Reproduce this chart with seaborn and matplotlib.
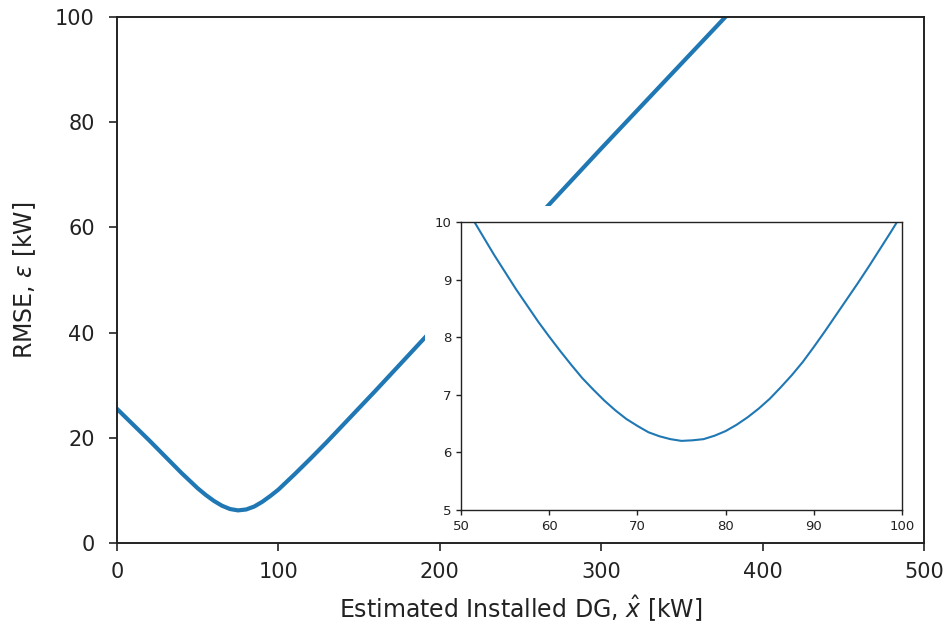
import matplotlib
matplotlib.use("Agg")
import matplotlib.pyplot as plt
from matplotlib.patches import Rectangle
import seaborn as sns
import pandas as pd

# Main curve
x_main = [0, 20, 40, 50, 55, 60, 65, 70, 75, 80, 85, 90, 95, 100, 110, 120, 130, 160, 190, 220, 260, 300, 340, 380]
y_main = [25.5, 19.5, 13.3, 10.4, 9.13, 8.01, 7.09, 6.46, 6.2, 6.37, 6.93, 7.83, 8.94, 10.15, 13.06, 16.08, 19.2, 28.9, 38.8, 48.6, 61.8, 75.0, 88.0, 101.0]

# Inset (zoom) curve
x_inset = [50, 51.25, 52.5, 53.75, 55, 56.25, 57.5, 58.75, 60, 61.25, 62.5, 63.75, 65, 66.25,
           67.5, 68.75, 70, 71.25, 72.5, 73.75, 75, 76.25, 77.5, 78.75, 80, 81.25, 82.5, 83.75,
           85, 86.25, 87.5, 88.75, 90, 91.25, 92.5, 93.75, 95, 96.25, 97.5, 98.75, 100]
y_inset = [10.39, 10.07, 9.75, 9.43, 9.13, 8.83, 8.55, 8.27, 8.01, 7.76, 7.52, 7.29, 7.09, 6.90,
           6.73, 6.58, 6.46, 6.35, 6.28, 6.23, 6.20, 6.21, 6.23, 6.29, 6.37, 6.48, 6.61, 6.76,
           6.93, 7.13, 7.34, 7.57, 7.83, 8.10, 8.38, 8.66, 8.94, 9.23, 9.53, 9.83, 10.14]

main_xticks = [0, 100, 200, 300, 400, 500]
main_yticks = [0, 20, 40, 60, 80, 100]
inset_xticks = [50, 60, 70, 80, 90, 100]
inset_yticks = [5, 6, 7, 8, 9, 10]

xlabel = r"Estimated Installed DG, $\hat{x}$ [kW]"
ylabel = r"RMSE, $\epsilon$ [kW]"

color = "#1f77b4"

df_main = pd.DataFrame({"x": x_main, "y": y_main})
df_inset = pd.DataFrame({"x": x_inset, "y": y_inset})

W, H = 949, 631
fig = plt.figure(figsize=(W / 100, H / 100), dpi=100)
ax = fig.add_axes([117 / W, (H - 543) / H, (924 - 117) / W, (543 - 17) / H])
sns.lineplot(data=df_main, x="x", y="y", ax=ax, color=color, linewidth=3.0)
ax.set_xlim(0, 500)
ax.set_ylim(0, 100)
ax.set_xticks(main_xticks)
ax.set_yticks(main_yticks)
ax.tick_params(labelsize=15, length=6, width=1.2, colors="#222222")
ax.tick_params(axis="x", pad=8)
ax.tick_params(axis="y", pad=10)
ax.set_xlabel(xlabel, fontsize=17, color="#222222", labelpad=8)
ax.set_ylabel(ylabel, fontsize=17, color="#222222", labelpad=12)
for s in ax.spines.values():
    s.set_linewidth(1.4)
    s.set_color("#222222")

axi = fig.add_axes([461 / W, (H - 510) / H, (902 - 461) / W, (510 - 222) / H])
# white backing box behind the inset and its tick labels
axi.add_patch(Rectangle((425 / W, (H - 537) / H), (912 - 425) / W, (537 - 206) / H,
                        transform=fig.transFigure, facecolor="white", edgecolor="none",
                        clip_on=False, zorder=0.5))
sns.lineplot(data=df_inset, x="x", y="y", ax=axi, color=color, linewidth=1.5)
axi.set_xlim(50, 100)
axi.set_ylim(5, 10)
axi.set_xticks(inset_xticks)
axi.set_yticks(inset_yticks)
axi.tick_params(labelsize=9.5, length=3.5, width=1.0, colors="#222222")
axi.set_xlabel("")
axi.set_ylabel("")
for s in axi.spines.values():
    s.set_linewidth(1.0)
    s.set_color("#222222")

fig.savefig("out.png", dpi=100)
